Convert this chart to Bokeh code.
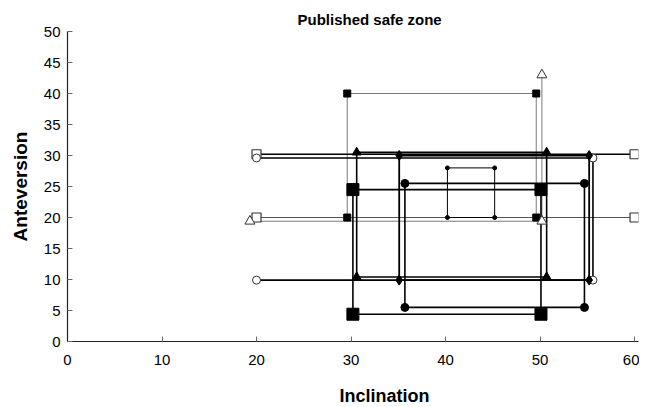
from bokeh.plotting import figure
from bokeh.models import Range1d, Title, FixedTicker
from bokeh.embed import file_html
from bokeh.resources import INLINE

# ---- data (inclination x, anteversion y) ----
x_ticks = [0, 10, 20, 30, 40, 50, 60]
y_ticks = [0, 5, 10, 15, 20, 25, 30, 35, 40, 45, 50]

small_sq_x = [29.6, 49.6, 49.6, 29.6]
small_sq_y = [40, 40, 20, 20]

big_sq_x = [30.2, 50.1, 50.1, 30.2]
big_sq_y = [24.5, 24.5, 4.4, 4.4]

open_sq_top_x = [20, 60]
open_sq_top_y = [30.2, 30.2]
open_sq_bot_x = [20, 60]
open_sq_bot_y = [20, 20]

open_tri_x = [19.3, 50.2, 50.2]
open_tri_y = [19.4, 19.4, 43]

open_circ_x = [20, 55.6, 55.6, 20]
open_circ_y = [29.6, 29.6, 9.9, 9.9]

tri_x = [30.6, 50.7, 50.7, 30.6]
tri_y = [30.5, 30.5, 10.4, 10.4]

diam_x = [35.1, 55.2, 55.2, 35.1]
diam_y = [30, 30, 9.9, 9.9]

circ_x = [35.7, 54.7, 54.7, 35.7]
circ_y = [25.5, 25.5, 5.5, 5.5]

dot_x = [40.2, 45.2, 45.2, 40.2]
dot_y = [28, 28, 20, 20]

FONT = "Liberation Sans"

p = figure(width=639, height=406, output_backend="svg", toolbar_location=None,
           x_range=Range1d(0, 60.42), y_range=Range1d(0, 50),
           min_border_left=67, min_border_right=1, min_border_top=31, min_border_bottom=65)
p.outline_line_color = None
p.xgrid.grid_line_color = None
p.ygrid.grid_line_color = None
p.background_fill_color = "white"

p.title.text = "Published safe zone"
p.title.text_font = FONT
p.title.text_font_size = "15px"
p.title.text_font_style = "bold"
p.title.text_color = "black"
p.title.align = "left"
p.title.offset = 230
p.title.standoff = 7

for ax, ticks in ((p.xaxis, x_ticks), (p.yaxis, y_ticks)):
    ax.ticker = FixedTicker(ticks=ticks)
    ax.major_tick_in = 5
    ax.major_tick_out = 0
    ax.minor_tick_line_color = None
    ax.axis_line_color = "#222222"
    ax.axis_line_width = 1.2
    ax.major_tick_line_color = "#666666"
    ax.major_label_text_font = FONT
    ax.major_label_text_font_size = "15px"
    ax.major_label_text_color = "black"

p.xaxis.major_label_standoff = 13
p.yaxis.major_label_standoff = 7
p.yaxis.axis_label = "Anteversion"
p.yaxis.axis_label_text_font = FONT
p.yaxis.axis_label_text_font_size = "19px"
p.yaxis.axis_label_text_font_style = "bold"
p.yaxis.axis_label_text_color = "black"
p.yaxis.axis_label_standoff = 10

# blank spacer between the tick labels and the x-axis title
p.add_layout(Title(text=" ", text_font=FONT, text_font_size="12px", standoff=0), "below")
p.add_layout(Title(text="Inclination", text_font=FONT, text_font_size="18px",
                   text_font_style="bold", text_color="black", align="left",
                   offset=272, standoff=0), "below")


def closed(xs):
    return list(xs) + [xs[0]]


# rectangles / polylines
p.line(closed(small_sq_x), closed(small_sq_y), line_color="#7a7a7a", line_width=1)
p.line(open_tri_x, open_tri_y, line_color="#7a7a7a", line_width=1)
p.line(open_sq_top_x, open_sq_top_y, line_color="black", line_width=1.4)
p.line(open_sq_bot_x, open_sq_bot_y, line_color="#555555", line_width=1.2)
p.line(open_circ_x, open_circ_y, line_color="black", line_width=1.6)
p.line(closed(tri_x), closed(tri_y), line_color="black", line_width=1.6)
p.line(closed(diam_x), closed(diam_y), line_color="black", line_width=1.8)
p.line(closed(circ_x), closed(circ_y), line_color="black", line_width=1.6)
p.line(closed(big_sq_x), closed(big_sq_y), line_color="black", line_width=1.6)
p.line(closed(dot_x), closed(dot_y), line_color="black", line_width=1)

# markers
p.scatter(small_sq_x, small_sq_y, marker="square", size=7, fill_color="black", line_color="black")
p.scatter(big_sq_x, big_sq_y, marker="square", size=12, fill_color="black", line_color="black")
p.scatter(open_sq_top_x + open_sq_bot_x, open_sq_top_y + open_sq_bot_y, marker="square", size=9,
          fill_color="white", line_color="#333333", line_width=1.2)
p.scatter(open_circ_x, open_circ_y, marker="circle", size=8, fill_color="white",
          line_color="#333333", line_width=1)
p.scatter(open_tri_x, open_tri_y, marker="triangle", size=10, fill_color="white",
          line_color="#333333", line_width=1)
p.scatter(tri_x, tri_y, marker="triangle", size=9, fill_color="black", line_color="black")
p.scatter(diam_x, diam_y, marker="diamond", size=10, fill_color="black", line_color="black")
p.scatter(circ_x, circ_y, marker="circle", size=8, fill_color="black", line_color="black")
p.scatter(dot_x, dot_y, marker="circle", size=4, fill_color="black", line_color="black")

open("out.html", "w").write(file_html(p, INLINE))
